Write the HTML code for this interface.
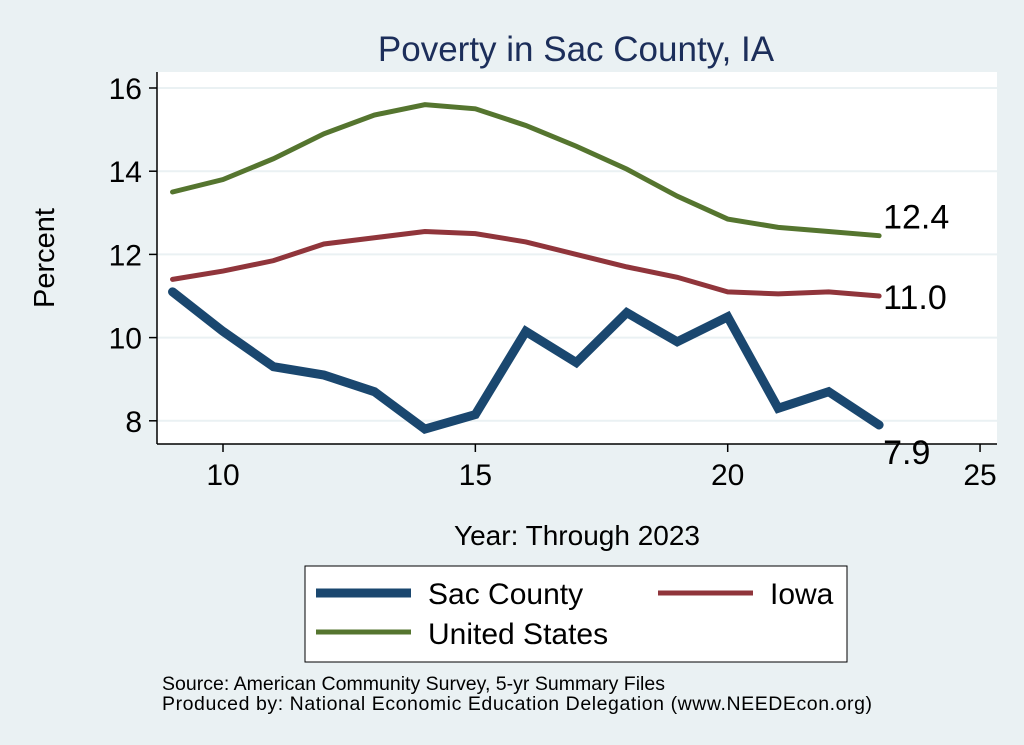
<!DOCTYPE html>
<html><head><meta charset="utf-8"><style>
body{margin:0;background:#eaf1f3;font-family:"Liberation Sans",sans-serif}
svg{display:block}
</style></head><body>
<svg width="1024" height="745" font-family="Liberation Sans, sans-serif">
<rect width="1024" height="745" fill="#eaf1f3"/>
<rect x="157" y="72" width="840" height="372" fill="#fff"/>
<text x="576" y="61" font-size="35" fill="#1c2e5a" text-anchor="middle">Poverty in Sac County, IA</text>
<g id="grid"></g><g id="axes"></g><g id="series"></g>
<text x="54" y="258" font-size="29" text-anchor="middle" transform="rotate(-90 54 258)">Percent</text>
<text x="577" y="545" font-size="28" text-anchor="middle">Year: Through 2023</text>
<g>
<rect x="305" y="566" width="542" height="96" fill="#fff" stroke="#000" stroke-width="1"/>
<line x1="316" y1="593" x2="411" y2="593" stroke="#1a476f" stroke-width="9"/>
<text x="428" y="604" font-size="30">Sac County</text>
<line x1="658" y1="593" x2="753" y2="593" stroke="#90353b" stroke-width="5"/>
<text x="770" y="604" font-size="30">Iowa</text>
<line x1="316" y1="632" x2="411" y2="632" stroke="#55752f" stroke-width="5"/>
<text x="428" y="644" font-size="30">United States</text>
</g>
<text x="162" y="690" font-size="19.5" textLength="503">Source: American Community Survey, 5-yr Summary Files</text>
<text x="162" y="710" font-size="19.5" textLength="710">Produced by: National Economic Education Delegation (www.NEEDEcon.org)</text>
</svg>
<script>
const years=[9,10,11,12,13,14,15,16,17,18,19,20,21,22,23];
const usVals=[13.5,13.8,14.3,14.9,15.35,15.6,15.5,15.1,14.6,14.05,13.4,12.85,12.65,12.55,12.45];
const iowaVals=[11.4,11.6,11.85,12.25,12.4,12.55,12.5,12.3,12.0,11.7,11.45,11.1,11.05,11.1,11.0];
const sacVals=[11.1,10.15,9.3,9.1,8.7,7.8,8.15,10.15,9.4,10.6,9.9,10.5,8.3,8.7,7.9];
const xTicks=[10,15,20,25];
const yTicks=[8,10,12,14,16];
const NS='http://www.w3.org/2000/svg';
const X=v=>223+(v-10)*50.47;
const Y=v=>88+(16-v)*41.6;
function mk(t,a,p){const e=document.createElementNS(NS,t);for(const k in a)e.setAttribute(k,a[k]);p.appendChild(e);return e;}
const grid=document.getElementById('grid'),axes=document.getElementById('axes'),ser=document.getElementById('series');
mk('line',{x1:157,y1:72,x2:157,y2:444,stroke:'#000','stroke-width':1.5},axes);
mk('line',{x1:157,y1:444,x2:997,y2:444,stroke:'#000','stroke-width':1.5},axes);
yTicks.forEach(v=>{
 const g=mk('line',{x1:158,y1:Y(v),x2:997,y2:Y(v),stroke:'#eaf1f3','stroke-width':2},grid);
 
 
 mk('line',{x1:149,y1:Y(v),x2:157,y2:Y(v),stroke:'#000','stroke-width':1.5},axes);
 const t=mk('text',{x:142,y:Y(v)+11,'font-size':30,'text-anchor':'end'},axes);t.textContent=v;
 
 
});
xTicks.forEach(v=>{
 mk('line',{x1:X(v),y1:444,x2:X(v),y2:452,stroke:'#000','stroke-width':1.5},axes);
 const t=mk('text',{x:X(v),y:485,'font-size':30,'text-anchor':'middle'},axes);t.textContent=v;
 
 
});
function line(vals,color,w,name){
 const p=mk('polyline',{points:vals.map((v,i)=>X(years[i])+','+Y(v)).join(' '),fill:'none',stroke:color,'stroke-width':w,'stroke-linejoin':'miter','stroke-linecap':'round'},ser);
 
 
}
line(usVals,'#55752f',5,'us-line');
line(iowaVals,'#90353b',5,'iowa-line');
line(sacVals,'#1a476f',9,'sac-line');
function lab(vals,dy,name){
 const n=vals.length-1;
 const t=mk('text',{x:X(years[n])+4,y:Y(vals[n])+dy,'font-size':34},ser);
 t.textContent=vals[n].toFixed(1);
 
 
}
lab(usVals,-7,'us-end-label');
lab(iowaVals,13,'iowa-end-label');
lab(sacVals,39,'sac-end-label');
</script>
</body></html>
